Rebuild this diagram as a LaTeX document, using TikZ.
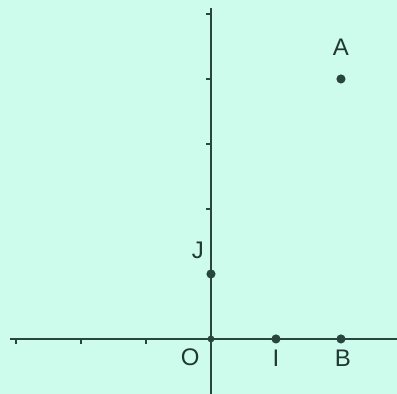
\documentclass[tikz,border=0pt]{standalone}
\usepackage{fontspec}
\setmainfont{Liberation Sans}
\definecolor{bgcol}{RGB}{206,252,236}
\definecolor{axcol}{RGB}{40,70,62}
\tikzset{pt/.style={circle,fill=axcol,inner sep=0pt,minimum size=4pt},
  lbl/.style={text=axcol!80!black,font=\fontsize{10.5}{12}\selectfont}}
\begin{document}
\begin{tikzpicture}
\fill[bgcol] (-3.246,-0.846) rectangle (2.862,5.215);
\useasboundingbox (-3.246,-0.846) rectangle (2.862,5.215);
\coordinate (xl) at (-3.09,0);
\coordinate (xr) at (2.862,0);
\coordinate (yb) at (0,-0.846);
\coordinate (yt) at (0,5.09);
\draw[axcol,line width=0.9pt] (xl)--(xr);
\draw[axcol,line width=0.9pt] (yb)--(yt);
\foreach \i in {-3,-2,-1} \draw[axcol,line width=0.7pt] (\i,0)--(\i,-0.07);
\foreach \j in {2,...,5} \draw[axcol,line width=0.7pt] (0,\j)--(-0.07,\j);
\node[pt,minimum size=3pt] (O) at (0,0) {};
\node[pt] (I) at (1,0) {};
\node[pt] (B) at (2,0) {};
\node[pt] (J) at (0,1) {};
\node[pt] (A) at (2,4) {};
\node[lbl] (Olbl) at (-0.32,-0.28) {O};
\node[lbl] (Ilbl) at (1.0,-0.29) {I};
\node[lbl] (Blbl) at (2.03,-0.29) {B};
\node[lbl] (Jlbl) at (-0.2,1.37) {J};
\node[lbl] (Albl) at (2,4.49) {A};
\end{tikzpicture}
\end{document}
